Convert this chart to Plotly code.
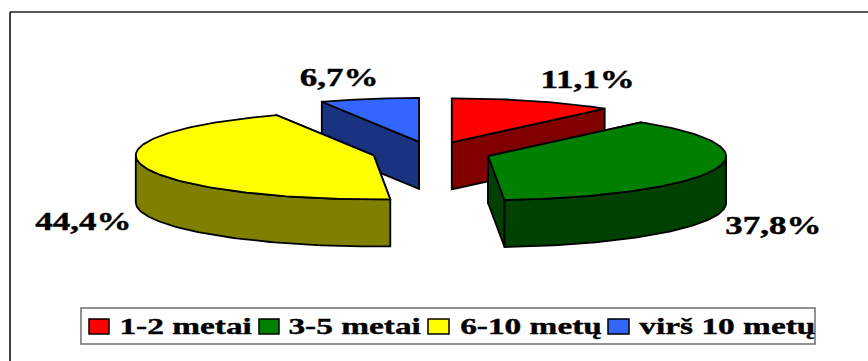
import numpy as np
import plotly.graph_objects as go

# Shares of respondents by length of service
categories = ["1-2 metai", "3-5 metai", "6-10 metų", "virš 10 metų"]
shares = [11.1, 37.8, 44.4, 6.7]
top_colors = ["#FF0000", "#008000", "#FFFF00", "#3366FF"]
side_colors = ["#800000", "#004000", "#808000", "#1A3380"]

# Projection of the tilted pie, in canvas pixels
WIDTH, HEIGHT = 868, 361
CENTER_X, CENTER_Y = 431.5, 152.7
RADIUS_X, RADIUS_Y = 238.0, 44.0
DEPTH = 47.0
EXPLODE = 0.25

# Value labels sit at this offset from the rim point at the middle of each slice
label_offsets = [(54, -22), (59, 56), (-59, 55), (-30, -21)]

# Hand-laid legend row, since the swatches are wider than a native legend allows
LEGEND_BOX = (81, 308, 815, 344)
SWATCH_LEFT = [89, 259, 428, 608]
SWATCH_RIGHT = [109, 279, 449, 629]
SWATCH_TOP, SWATCH_BOTTOM = 319, 334
LEGEND_TEXT_LEFT = [121, 289, 460, 640]
LEGEND_TEXT_RIGHT = [250, 420, 601, 814]
LEGEND_TEXT_Y = 326

FONT = "Liberation Serif"
LINE_W = 1.8


def rim(cx, cy, deg):
    """Point on the ellipse at a clockwise angle measured from 12 o'clock."""
    t = np.radians(deg)
    return cx + RADIUS_X * np.sin(t), cy - RADIUS_Y * np.cos(t)


def polygon(xs, ys, color, name):
    return go.Scatter(
        x=list(xs), y=list(ys), mode="lines", fill="toself", fillcolor=color,
        line=dict(color="black", width=LINE_W), name=name, showlegend=False,
        hoverinfo="name",
    )


fig = go.Figure()

total = sum(shares)
edges = np.concatenate([[0.0], np.cumsum(shares)]) * 360.0 / total
mids = (edges[:-1] + edges[1:]) / 2

# Paint the back slices first so the front ones overlap them
for i in sorted(range(len(shares)), key=lambda k: -np.cos(np.radians(mids[k]))):
    start, end, mid = edges[i], edges[i + 1], mids[i]
    cx, cy = rim(CENTER_X, CENTER_Y, mid)
    cx = CENTER_X + EXPLODE * (cx - CENTER_X)
    cy = CENTER_Y + EXPLODE * (cy - CENTER_Y)

    # Radial walls
    for edge in (start, end):
        ex, ey = rim(cx, cy, edge)
        fig.add_trace(polygon(
            [cx, ex, ex, cx, cx],
            [cy, ey, ey + DEPTH, cy + DEPTH, cy],
            side_colors[i], categories[i],
        ))

    # Outer wall: only the part of the arc that faces the viewer
    lo, hi = max(start, 90.0), min(end, 270.0)
    if lo < hi:
        ax, ay = rim(cx, cy, np.linspace(lo, hi, 80))
        fig.add_trace(polygon(
            np.concatenate([ax, ax[::-1], ax[:1]]),
            np.concatenate([ay, ay[::-1] + DEPTH, ay[:1]]),
            side_colors[i], categories[i],
        ))

    # Top face
    ax, ay = rim(cx, cy, np.linspace(start, end, 120))
    fig.add_trace(polygon(
        np.concatenate([[cx], ax, [cx]]),
        np.concatenate([[cy], ay, [cy]]),
        top_colors[i], categories[i],
    ))

annotations = []
for i, value in enumerate(shares):
    rx, ry = rim(CENTER_X, CENTER_Y, mids[i])
    rx = rx + EXPLODE * (rx - CENTER_X)
    ry = ry + EXPLODE * (ry - CENTER_Y)
    label = f"{value:.1f}".replace(".", ",") + "%"
    annotations.append(dict(
        x=rx + label_offsets[i][0], y=ry + label_offsets[i][1],
        text=f"<b>{label}</b>",
        showarrow=False, xanchor="center", yanchor="middle",
        font=dict(family=FONT, size=25, color="black"),
    ))

for i, label in enumerate(categories):
    annotations.append(dict(
        x=(LEGEND_TEXT_LEFT[i] + LEGEND_TEXT_RIGHT[i]) / 2, y=LEGEND_TEXT_Y,
        text=f"<b>{label}</b>",
        showarrow=False, xanchor="center", yanchor="middle",
        font=dict(family=FONT, size=24, color="black"),
    ))

shapes = [
    # Chart frame: only the top and left rules are on the canvas
    dict(type="line", x0=10, x1=WIDTH, y0=12, y1=12,
         line=dict(color="#222222", width=1.5)),
    dict(type="line", x0=10, x1=10, y0=12, y1=HEIGHT,
         line=dict(color="black", width=1.5)),
    dict(type="rect", x0=LEGEND_BOX[0], y0=LEGEND_BOX[1],
         x1=LEGEND_BOX[2], y1=LEGEND_BOX[3],
         line=dict(color="#6E6E6E", width=1.5), fillcolor="white"),
]
for i, color in enumerate(top_colors):
    shapes.append(dict(
        type="rect", x0=SWATCH_LEFT[i], x1=SWATCH_RIGHT[i],
        y0=SWATCH_TOP, y1=SWATCH_BOTTOM, fillcolor=color,
        line=dict(color="black", width=1.5),
    ))

fig.update_layout(
    width=WIDTH, height=HEIGHT, margin=dict(l=0, r=0, t=0, b=0),
    paper_bgcolor="white", plot_bgcolor="white",
    showlegend=False, shapes=shapes, annotations=annotations,
    xaxis=dict(range=[0, WIDTH], visible=False, fixedrange=True),
    yaxis=dict(range=[HEIGHT, 0], visible=False, fixedrange=True),
)

# The serif type is set wide; stretch each text run horizontally
widen_text = """
function widen() {
  document.querySelectorAll('g.annotation text').forEach(function (t) {
    if (!t.hasAttribute('textLength')) {
      var scale = t.textContent.indexOf('%') >= 0 ? 1.40 : 1.39;
      t.setAttribute('textLength', t.getComputedTextLength() * scale);
      t.setAttribute('lengthAdjust', 'spacingAndGlyphs');
      t.style.stroke = 'black';
      t.style.strokeWidth = '0.4px';
    }
  });
}
widen();
setTimeout(widen, 50);
"""

fig.write_html("out.html", post_script=widen_text, config={"displayModeBar": False})
